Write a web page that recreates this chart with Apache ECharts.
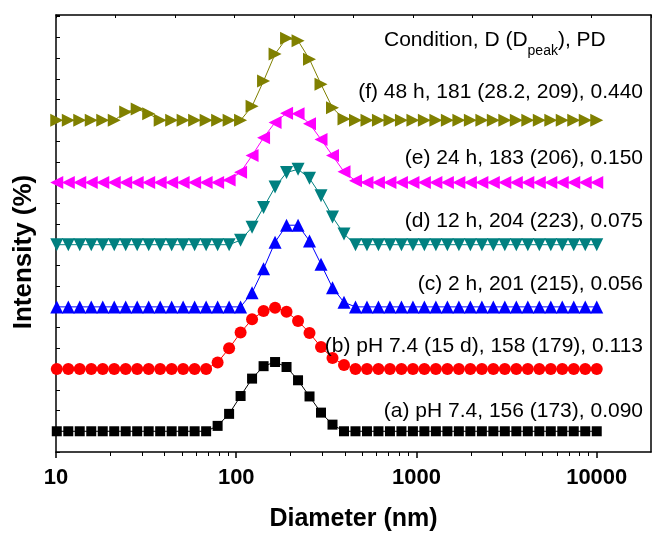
<!DOCTYPE html>
<html><head><meta charset="utf-8">
<script src="https://cdn.jsdelivr.net/npm/echarts@6/dist/echarts.min.js"></script>
<style>html,body{margin:0;padding:0;background:#fff}#c{width:652px;height:537px}</style>
</head><body><div id="c"></div>
<script>
// Size bins (nm)
const diameters = [10.10, 11.70, 13.54, 15.69, 18.17, 21.04, 24.36, 28.21, 32.67, 37.84,
  43.82, 50.75, 58.77, 68.06, 78.82, 91.28, 105.7, 122.4, 141.8, 164.2,
  190.1, 220.2, 255.0, 295.3, 342.0, 396.1, 458.7, 531.2, 615.1, 712.4,
  825.0, 955.4, 1106, 1281, 1484, 1718, 1990, 2305, 2669, 3091,
  3580, 4145, 4801, 5560, 6439, 7456, 8635, 10000];
// Intensity (%) per bin
const intensityA = [0,0,0,0,0,0,0,0,0,0, 0,0,0,0,1.3,4.2,8.5,12.7,15.7,16.7, 15.5,12.3,8.4,4.5,1.6,0,0,0,0,0, 0,0,0,0,0,0,0,0,0,0, 0,0,0,0,0,0,0,0];
const intensityB = [0,0,0,0,0,0,0,0,0,0, 0,0,0,0,1.6,5.0,8.8,12.0,14.0,14.8, 13.8,11.6,8.7,5.3,2.7,1.0,0,0,0,0, 0,0,0,0,0,0,0,0,0,0, 0,0,0,0,0,0,0,0];
const intensityC = [0,0,0,0,0,0,0,0,0,0, 0,0,0,0,0,0,0,3.4,9.2,15.6, 19.7,19.7,15.9,10.3,4.6,1.1,0,0,0,0, 0,0,0,0,0,0,0,0,0,0, 0,0,0,0,0,0,0,0];
const intensityD = [0,0,0,0,0,0,0,0,0,0, 0,0,0,0,0,0,1.1,4.2,9.0,13.9, 17.4,18.2,16.0,11.8,6.7,2.6,0,0,0,0, 0,0,0,0,0,0,0,0,0,0, 0,0,0,0,0,0,0,0];
const intensityE = [0,0,0,0,0,0,0,0,0,0, 0,0,0,0,0,0.6,2.5,6.5,10.8,14.5, 16.7,16.6,14.2,10.4,6.5,2.6,0.4,0,0,0, 0,0,0,0,0,0,0,0,0,0, 0,0,0,0,0,0,0,0];
const intensityF = [0,0,0,0,0,0,2.0,2.7,1.6,0, 0,0,0,0,0,0,0,3.4,9.5,16.0, 19.8,19.2,14.7,8.7,3.0,0.3,0,0,0,0, 0,0,0,0,0,0,0,0,0,0, 0,0,0,0,0,0,0,0];

const seriesLabels = [
  '(a) pH 7.4, 156 (173), 0.090',
  '(b) pH 7.4 (15 d), 158 (179), 0.113',
  '(c) 2 h, 201 (215), 0.056',
  '(d) 12 h, 204 (223), 0.075',
  '(e) 24 h, 183 (206), 0.150',
  '(f) 48 h, 181 (28.2, 209), 0.440'
];
const headerText = 'Condition, D (D';
const headerSub = 'peak';
const headerTail = '), PD';
const minorTickValues = [20,30,40,50,60,70,80,90,200,300,400,500,600,700,800,900,
  2000,3000,4000,5000,6000,7000,8000,9000];

const allIntensity = [intensityA, intensityB, intensityC, intensityD, intensityE, intensityF];
const stackOffsets = [5, 20, 35, 50, 65, 80];
const colors = ['#000000', '#ff0000', '#0000ff', '#008080', '#ff00ff', '#808000'];
const symbols = ['rect', 'circle', 'triangle', 'triangle', 'triangle', 'triangle'];
const rotates = [0, 0, 0, 180, 90, -90];
const sizes = [10, 12, 13, 13, 13, 13];
const labelY = [412, 347, 285, 222, 159, 93];

const FONT = '"Liberation Sans", Arial, sans-serif';
const chart = echarts.init(document.getElementById('c'), null, {renderer: 'canvas'});

const series = allIntensity.map((vals, k) => ({
  type: 'line',
  xAxisIndex: 0, yAxisIndex: 0,
  data: diameters.map((d, i) => [d, vals[i] + stackOffsets[k]]),
  symbol: symbols[k], symbolSize: sizes[k], symbolRotate: rotates[k],
  showAllSymbol: true,
  lineStyle: {color: colors[k], width: 1},
  itemStyle: {color: colors[k], borderWidth: 0},
  animation: false, silent: true
}));

const graphics = seriesLabels.map((t, k) => ({
  type: 'text', z: 100, right: 652 - 643, top: labelY[k] - 11.5,
  style: {text: t, font: '21px ' + FONT, fill: '#000'}
}));
graphics.push({
  type: 'text', z: 100, left: 384, top: 30,
  style: {
    text: '{n|' + headerText + '}{s|' + headerSub + '}{n|' + headerTail + '}',
    rich: {
      n: {font: '21px ' + FONT, fill: '#000', verticalAlign: 'bottom', lineHeight: 25},
      s: {font: '14px ' + FONT, fill: '#000', verticalAlign: 'bottom', lineHeight: 25, padding: [0,0,-7,0]}
    }
  }
});
graphics.push({
  type: 'text', z: 100, x: 24, y: 252, rotation: Math.PI / 2,
  style: {text: 'Intensity (%)', font: 'bold 26px ' + FONT, fill: '#000', align: 'center', verticalAlign: 'middle'}
});

chart.setOption({
  animation: false,
  backgroundColor: '#fff',
  grid: {left: 56, right: 1, top: 15, bottom: 83.7, containLabel: false},
  xAxis: [
    {
      type: 'log', logBase: 10, min: 10, max: 20000, position: 'bottom',
      axisLine: {show: true, lineStyle: {color: '#000', width: 1.5}},
      axisTick: {show: true, inside: false, length: 6, lineStyle: {color: '#000', width: 1.5}},
      axisLabel: {show: true, showMaxLabel: false, margin: 15, color: '#000', fontSize: 22, fontWeight: 'bold', fontFamily: FONT,
        formatter: v => String(Math.round(v))},
      splitLine: {show: false},
      name: 'Diameter (nm)', nameLocation: 'middle', nameGap: 55,
      nameTextStyle: {color: '#000', fontSize: 25, fontWeight: 'bold', fontFamily: FONT}
    },
    {
      type: 'value', min: 1, max: Math.log10(20000), position: 'bottom',
      axisLine: {show: false},
      axisTick: {show: true, inside: false, length: 4, customValues: minorTickValues.map(Math.log10), lineStyle: {color: '#000', width: 1}},
      axisLabel: {show: false}, splitLine: {show: false}
    },
    {
      type: 'value', min: 0, max: 10, interval: 1, position: 'top',
      axisLine: {show: true, lineStyle: {color: '#000', width: 1.5}},
      axisTick: {show: true, inside: true, length: 3, lineStyle: {color: '#000', width: 1}},
      axisLabel: {show: false}, splitLine: {show: false}
    }
  ],
  yAxis: [
    {
      type: 'value', min: 0, max: 105.4, interval: 5, position: 'left',
      axisLine: {show: true, lineStyle: {color: '#000', width: 1.5}},
      axisTick: {show: true, inside: true, length: 4, lineStyle: {color: '#000', width: 1}},
      axisLabel: {show: false}, splitLine: {show: false}
    },
    {
      type: 'value', min: 0, max: 1, position: 'right',
      axisLine: {show: true, lineStyle: {color: '#000', width: 1.5}},
      axisTick: {show: false}, axisLabel: {show: false}, splitLine: {show: false}
    }
  ],
  series: series,
  graphic: graphics
});
</script>
</body></html>
